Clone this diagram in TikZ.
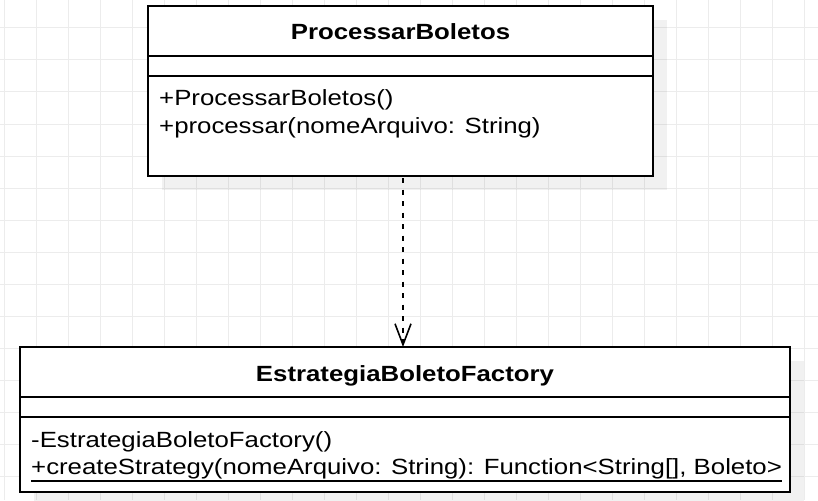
\documentclass[tikz,border=0pt]{standalone}
\usepackage{fontspec}
\setmainfont{Liberation Sans}[FakeStretch=1.172]
\usetikzlibrary{arrows.meta}
\begin{document}
\begin{tikzpicture}[x=1pt,y=-1pt,
  gridline/.style={draw=gray!15,line width=1pt},
  classbox/.style={draw=black,fill=white,line width=2pt,inner sep=0pt,outer sep=0pt,rectangle},
  shadowbox/.style={fill=black,opacity=0.055},
  divider/.style={draw=black,line width=2pt},
  titletext/.style={inner sep=0pt,anchor=base,font=\fontsize{22pt}{26pt}\selectfont\bfseries},
  membertext/.style={inner sep=0pt,anchor=base west,font=\fontsize{22pt}{26pt}\selectfont},
  dep/.style={draw=black,line width=2pt,dash pattern=on 5pt off 6.5pt,-{Straight Barb[length=21pt,width=16pt,line width=1.6pt]}}]
\fill[white] (0,0) rectangle (818,500);
\useasboundingbox (0,0) rectangle (818,500);
% grid
\foreach \gx in {4,36,...,804} \draw[gridline] (\gx,0) -- (\gx,500);
\foreach \gy in {28,60,...,476} \draw[gridline] (0,\gy) -- (818,\gy);
% shadows
\fill[shadowbox] (162,20) rectangle (667,190);
\fill[shadowbox] (34,361) rectangle (804,506);
% upper class
\node[classbox,minimum width=505pt,minimum height=170pt] (up) at (400.5,91) {};
\draw[divider] (up.west |- 0,56) -- (up.east |- 0,56);
\draw[divider] (up.west |- 0,76) -- (up.east |- 0,76);
\node[titletext] (t1) at (400.5,40) {ProcessarBoletos};
\node[membertext] (m1a) at (159,106) {+ProcessarBoletos()};
\node[membertext] (m1b) at (159,133) {+processar(nomeArquivo: String)};
% lower class
\node[classbox,minimum width=770pt,minimum height=145pt] (low) at (405,419.5) {};
\draw[divider] (low.west |- 0,397) -- (low.east |- 0,397);
\draw[divider] (low.west |- 0,417) -- (low.east |- 0,417);
\node[titletext] (t2) at (405,381) {EstrategiaBoletoFactory};
\node[membertext] (m2a) at (31,447) {-EstrategiaBoletoFactory()};
\node[membertext] (m2b) at (31,474) {+createStrategy(nomeArquivo: String): Function<String[], Boleto>};
\draw[line width=2pt] ([yshift=-7pt]m2b.base west) -- ([yshift=-7pt]m2b.base east);
% dependency
\draw[dep] ([xshift=2.5pt,yshift=-2pt]up.south) -- ([xshift=2.5pt]up.south |- low.north);
\end{tikzpicture}
\end{document}
